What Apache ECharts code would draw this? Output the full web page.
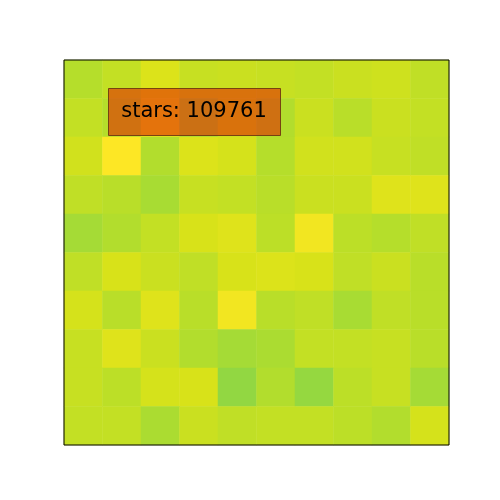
<!DOCTYPE html>
<html>
<head>
<meta charset="utf-8">
<script src="https://cdn.jsdelivr.net/npm/echarts@6/dist/echarts.min.js"></script>
<style>
  html, body { margin: 0; padding: 0; background: #fff; }
  #chart { width: 500px; height: 500px; }
</style>
</head>
<body>
<div id="chart"></div>
<script>
var cols = ['0', '1', '2', '3', '4', '5', '6', '7', '8', '9'];
var rows = ['0', '1', '2', '3', '4', '5', '6', '7', '8', '9'];

// cell values, top row first (position on the viridis scale, 0-100)
var row0 = [90, 92, 95.5, 92.5, 93, 92.5, 92, 93, 93.5, 91.5];
var row1 = [92, 90, 97, 88, 93, 89.5, 93, 90.5, 93, 92];
var row2 = [94, 100, 89.5, 95.5, 94.5, 90, 94, 94, 92.5, 91.5];
var row3 = [91.5, 90.5, 88, 92.5, 92, 90.5, 93, 93, 96, 96];
var row4 = [87.5, 89.5, 92, 95, 96, 91, 98.5, 91, 90, 91.5];
var row5 = [91.5, 95, 93, 91.5, 95, 95.5, 95, 91.5, 93, 90.5];
var row6 = [94.5, 90.5, 96, 90.5, 98.5, 90.5, 91.5, 88, 91.5, 90.5];
var row7 = [92.5, 96, 93, 89.5, 87.5, 88.5, 92, 92, 92.5, 90.5];
var row8 = [92.5, 91, 94.5, 95, 84.5, 89.5, 85, 91, 92.5, 87.5];
var row9 = [92, 92, 88.5, 93, 91.5, 92, 92, 91, 89.5, 94.5];

var label = 'stars: 109761';

var chart = echarts.init(document.getElementById('chart'));

var grid = [row0, row1, row2, row3, row4, row5, row6, row7, row8, row9];
var data = [];
for (var r = 0; r < grid.length; r++) {
    for (var c = 0; c < grid[r].length; c++) {
        data.push([c, r, grid[r][c]]);
    }
}

var option = {
    animation: false,
    grid: {
        left: 64,
        top: 60,
        width: 385,
        height: 385,
        show: true,
        borderColor: '#000',
        borderWidth: 1,
        backgroundColor: 'transparent',
        z: 5
    },
    xAxis: {
        type: 'category',
        data: cols,
        axisLine: { show: false },
        axisTick: { show: false },
        axisLabel: { show: false },
        splitLine: { show: false }
    },
    yAxis: {
        type: 'category',
        data: rows,
        inverse: true,
        axisLine: { show: false },
        axisTick: { show: false },
        axisLabel: { show: false },
        splitLine: { show: false }
    },
    // upper part of viridis, stops at 75, 80, 85, 90, 95, 100
    visualMap: {
        show: false,
        min: 75,
        max: 100,
        inRange: {
            color: ['#5ec962', '#7ad151', '#95d840', '#b5de2b', '#d8e219', '#fde725']
        }
    },
    series: [{
        type: 'heatmap',
        data: data,
        itemStyle: { borderWidth: 0 }
    }],
    graphic: [
        {
            type: 'rect',
            shape: { x: 108.5, y: 88.5, width: 172, height: 47 },
            style: { fill: 'rgba(226,40,0,0.6)', stroke: 'rgba(110,55,15,0.9)', lineWidth: 1 },
            z: 10
        },
        {
            type: 'text',
            x: 194,
            y: 112,
            style: {
                text: label,
                font: '21px "DejaVu Sans"',
                fill: '#000',
                align: 'center',
                verticalAlign: 'middle'
            },
            z: 11
        }
    ]
};
chart.setOption(option);
</script>
</body>
</html>
